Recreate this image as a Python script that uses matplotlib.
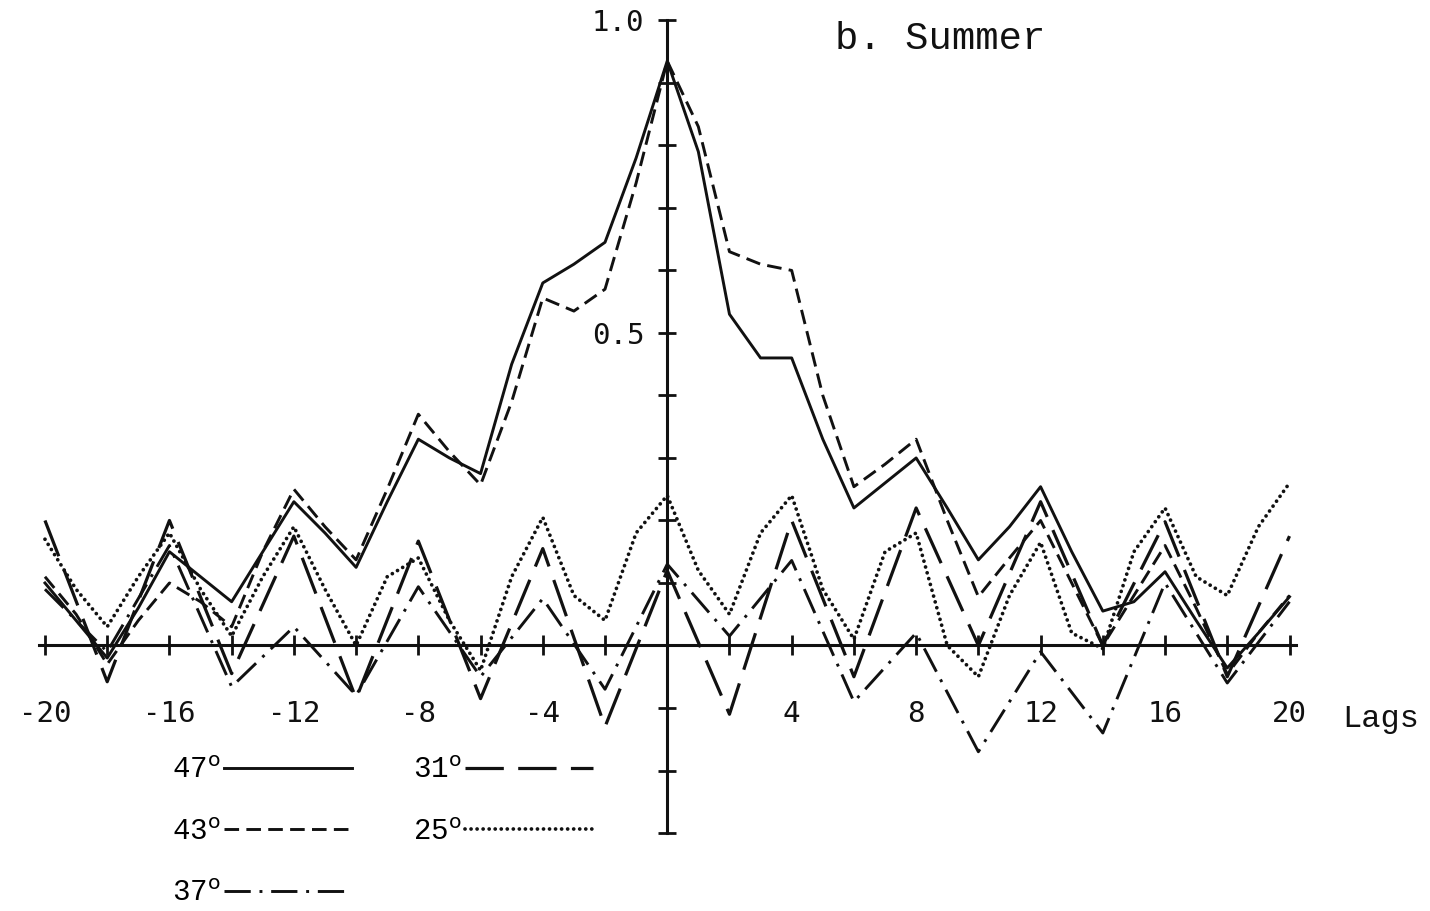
import numpy as np
import matplotlib
matplotlib.use('Agg')
from matplotlib import pyplot as plt

# lag axis (integer lags for the densely read series, even lags for the rest)
lags = np.arange(-20, 21)
lags_even = np.arange(-20, 21, 2)

# correlation vs lag, summer, by latitude
r47 = [0.10, 0.04, -0.02, 0.06, 0.15, 0.11, 0.07, 0.15, 0.23, 0.18, 0.125,
       0.23, 0.33, 0.30, 0.275, 0.45, 0.58, 0.61, 0.645, 0.78, 0.935,
       0.79, 0.53, 0.46, 0.46, 0.33, 0.22, 0.26, 0.30, 0.22, 0.137,
       0.19, 0.254, 0.15, 0.055, 0.07, 0.118, 0.04, -0.036, 0.02, 0.078]
r43 = [0.11, 0.05, -0.03, 0.04, 0.10, 0.07, 0.03, 0.15, 0.25, 0.19, 0.137,
       0.25, 0.37, 0.31, 0.257, 0.39, 0.556, 0.535, 0.57, 0.74, 0.935,
       0.83, 0.63, 0.61, 0.60, 0.40, 0.254, 0.29, 0.33, 0.20, 0.078,
       0.14, 0.20, 0.10, 0.0, 0.08, 0.16, 0.06, -0.046, 0.02, 0.08]
r25 = [0.17, 0.09, 0.03, 0.11, 0.18, 0.09, 0.015, 0.11, 0.19, 0.09, 0.0,
       0.11, 0.14, 0.04, -0.04, 0.11, 0.205, 0.08, 0.04, 0.18, 0.24,
       0.12, 0.05, 0.18, 0.24, 0.09, 0.01, 0.15, 0.18, 0.0, -0.05,
       0.08, 0.165, 0.02, -0.005, 0.15, 0.22, 0.11, 0.08, 0.19, 0.26]
r37 = [0.09, -0.01, 0.16, -0.066, 0.03, -0.08, 0.094, -0.05, 0.075, -0.07, 0.13,
       0.015, 0.136, -0.09, 0.02, -0.17, -0.01, -0.14, 0.10, -0.06, 0.07]
r31 = [0.20, -0.058, 0.20, -0.045, 0.175, -0.085, 0.167, -0.085, 0.155, -0.13, 0.12,
       -0.11, 0.20, -0.05, 0.22, 0.0, 0.23, 0.0, 0.198, -0.05, 0.175]

xticks = list(range(-20, 21, 2))
xlabels = [str(v) if v % 4 == 0 and v != 0 else '' for v in xticks]
yticks = np.round(np.arange(-0.3, 1.01, 0.1), 1)
ylabels = {1.0: '1.0', 0.5: '0.5'}

ink = '#111111'
numfont = 'DejaVu Sans Mono'
typefont = 'Liberation Mono'

fig = plt.figure(figsize=(14.3, 9.11), dpi=100)
axe = fig.add_axes([0.0271, 0.0856, 0.879, 0.892])

l47, = axe.plot(lags, r47, color=ink, lw=2.1, label='47$^{\\mathrm{o}}$')
l43, = axe.plot(lags, r43, color=ink, lw=2.1, dashes=(5, 2.5), label='43$^{\\mathrm{o}}$')
l37, = axe.plot(lags_even, r37, color=ink, lw=2.1, dashes=(9, 3, 1, 3), label='37$^{\\mathrm{o}}$')
l31, = axe.plot(lags_even, r31, color=ink, lw=2.3, dashes=(12, 4.5), label='31$^{\\mathrm{o}}$')
l25, = axe.plot(lags, r25, color=ink, lw=2.7, dashes=(0.01, 1.6),
                dash_capstyle='round', label='25$^{\\mathrm{o}}$')

axe.set_xlim(-20.2, 20.2)
axe.set_ylim(-0.3, 1.0)

# axes cross at the origin
for side in ['top', 'right']:
    axe.spines[side].set_visible(False)
axe.spines['left'].set_position(('data', 0))
axe.spines['bottom'].set_position(('data', 0))
axe.spines['left'].set_linewidth(2.2)
axe.spines['bottom'].set_linewidth(2.2)
axe.spines['left'].set_color(ink)
axe.spines['bottom'].set_color(ink)

axe.set_xticks(xticks)
axe.set_xticklabels(xlabels, family=numfont, fontsize=21)
axe.set_yticks(yticks)
axe.set_yticklabels([ylabels.get(v, '') for v in yticks], family=numfont, fontsize=21)
axe.tick_params(axis='x', direction='inout', length=14, width=2, pad=32, colors=ink)
axe.tick_params(axis='y', direction='inout', length=13, width=2, pad=10, colors=ink)

axe.text(21.7, -0.093, 'Lags', family=typefont, fontsize=23, va='top', ha='left',
         color=ink, clip_on=False)
axe.text(5.4, 0.97, 'b. Summer', family=typefont, fontsize=28, va='center', ha='left',
         color=ink)

axe.legend(handles=[l47, l43, l37, l31, l25], ncol=2, markerfirst=False, frameon=False,
           prop={'family': typefont, 'size': 21}, handlelength=4.4, handletextpad=0.1,
           columnspacing=2.1, labelspacing=1.15, loc='upper left', borderpad=0,
           borderaxespad=0, bbox_to_anchor=(172 / 1430, 1 - 756 / 911),
           bbox_transform=fig.transFigure)

fig.savefig('out.png', dpi=100, facecolor='white')
